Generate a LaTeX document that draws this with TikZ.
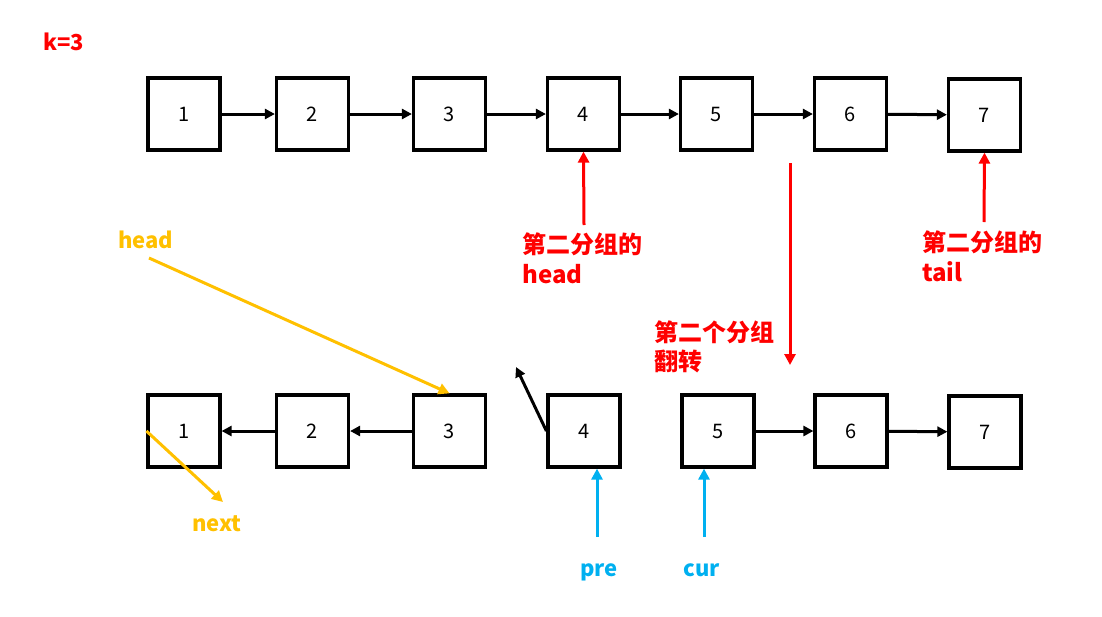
\documentclass[tikz,border=0pt]{standalone}
\usepackage{fontspec}
\setmainfont{Noto Sans CJK SC}
\usetikzlibrary{arrows.meta,calc}
\definecolor{myred}{HTML}{FF0000}
\definecolor{myyel}{HTML}{FFC000}
\definecolor{myblue}{HTML}{00B0F0}
\tikzset{
  box/.style={draw=black,line width=3.2pt,minimum width=72pt,minimum height=72pt,inner sep=0pt,font=\fontsize{20}{22}\selectfont},
  link/.style={line width=3pt,-{Triangle[length=10pt,width=10pt]}},
  redarr/.style={draw=myred,line width=3pt,-{Triangle[length=11pt,width=11pt]}},
  yelarr/.style={draw=myyel,line width=3pt,-{Triangle[length=11pt,width=11pt]}},
  bluarr/.style={draw=myblue,line width=3pt,-{Triangle[length=11pt,width=11pt]}},
  lbl/.style={font=\bfseries\fontsize{24}{30}\selectfont,align=left,inner sep=0pt,anchor=north west},
  sl/.style={font=\bfseries\fontsize{22}{26}\selectfont,inner sep=0pt,anchor=base west}
}
\begin{document}
\begin{tikzpicture}[x=1pt,y=-1pt]
\useasboundingbox (0,0) rectangle (1102,616);
% top row
\node[box] (t1) at (184,114) {1};
\node[box] (t2) at (312.5,114) {2};
\node[box] (t3) at (449.5,114) {3};
\node[box] (t4) at (583.5,114) {4};
\node[box] (t5) at (716.5,114) {5};
\node[box] (t6) at (850.5,114) {6};
\node[box] (t7) at (984.5,115) {7};
\foreach \a/\b in {t1/t2,t2/t3,t3/t4,t4/t5,t5/t6,t6/t7}
  \draw[link] (\a) -- (\b);
% bottom row
\node[box] (b1) at (184,431) {1};
\node[box] (b2) at (312.5,431) {2};
\node[box] (b3) at (449.5,431) {3};
\node[box] (b4) at (584,431) {4};
\node[box] (b5) at (718,431) {5};
\node[box] (b6) at (851,431) {6};
\node[box] (b7) at (985,432) {7};
\draw[link] (b3) -- (b2);
\draw[link] (b2) -- (b1);
\draw[link] (b5) -- (b6);
\draw[link] (b6) -- (b7);
\coordinate (b4tip) at (516,367);
\draw[link] (b4.west) -- (b4tip);
% k
\node[sl,text=myred] (k) at (43,50) {k=3};
% red labels
\node[lbl,text=myred] (hd2) at (522,233) {第二分组的\\head};
\coordinate (hd2s) at (584,225);
\draw[redarr] (hd2s) -- (t4.south);
\node[lbl,text=myred] (tl2) at (922,231) {第二分组的\\tail};
\coordinate (tl2s) at (984,222);
\draw[redarr] (tl2s) -- (t7.south);
\node[lbl,text=myred,font=\bfseries\fontsize{24}{29}\selectfont] (rev) at (654,321) {第二个分组\\翻转};
\coordinate (revs) at (790,163);
\coordinate (reve) at (790,365);
\draw[redarr] (revs) -- (reve);
% yellow
\node[sl,text=myyel] (yhead) at (118,248) {head};
\coordinate (yhs) at (149,258);
\draw[yelarr] (yhs) -- (b3.north);
\node[sl,text=myyel] (ynext) at (192,531) {next};
\coordinate (yne) at (223,502);
\draw[yelarr] (b1.west) -- (yne);
% blue
\node[sl,text=myblue] (pre) at (580,576) {pre};
\coordinate (pres) at (597,537);
\draw[bluarr] (pres) -- (pres |- b4.south);
\node[sl,text=myblue] (cur) at (683,576) {cur};
\coordinate (curs) at (704,537);
\draw[bluarr] (curs) -- (curs |- b5.south);
\end{tikzpicture}
\end{document}
